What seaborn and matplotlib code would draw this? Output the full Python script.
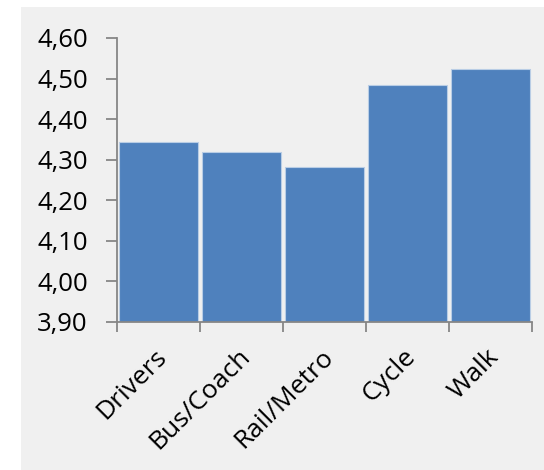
import matplotlib
matplotlib.use("Agg")
import matplotlib.pyplot as plt
import matplotlib.patches as mpatches
import matplotlib.transforms as mtransforms
from matplotlib.ticker import FixedLocator, FuncFormatter
import seaborn as sns
import pandas as pd

modes = ["Drivers", "Bus/Coach", "Rail/Metro", "Cycle", "Walk"]
scores = [4.344, 4.32, 4.281, 4.484, 4.523]
y_ticks = [3.90, 4.00, 4.10, 4.20, 4.30, 4.40, 4.50, 4.60]

df = pd.DataFrame({"mode": modes, "score": scores})

sns.set_theme(style="white")
plt.rcParams["font.family"] = ["Open Sans", "DejaVu Sans"]

bg = "#f0f0f0"
axis_col = "#868686"
bar_col = "#4f81bd"

fig = plt.figure(figsize=(5.44, 4.70), dpi=100, facecolor="white")
fig.patches.append(mpatches.Rectangle((21 / 544, 0), 1 - 21 / 544, 1 - 7 / 470,
                                      transform=fig.transFigure, facecolor=bg,
                                      edgecolor="none", zorder=-10))
ax = fig.add_axes([117 / 544, 1 - 322 / 470, (532 - 117) / 544, (322 - 38) / 470])
ax.set_facecolor(bg)

sns.barplot(data=df, x="mode", y="score", color=bar_col, saturation=1,
            width=0.95, edgecolor="#b9cde5", linewidth=0.8, ax=ax)

ax.set_ylim(3.90, 4.60)
ax.set_xlim(-0.5, len(modes) - 0.5)
ax.set_yticks(y_ticks)
ax.yaxis.set_major_formatter(FuncFormatter(lambda v, p: f"{v:.2f}".replace(".", ",")))

# tick marks at category boundaries, labels centred under each bar
ax.xaxis.set_major_locator(FixedLocator([i - 0.5 for i in range(len(modes) + 1)]))
ax.xaxis.set_major_formatter(FuncFormatter(lambda v, p: ""))
ax.xaxis.set_minor_locator(FixedLocator(list(range(len(modes)))))
ax.set_xticklabels(modes, minor=True)
ax.tick_params(axis="x", which="major", length=7, width=1.3, color=axis_col, direction="out", bottom=True)
ax.tick_params(axis="x", which="minor", length=0, pad=16, labelsize=19, labelcolor="black")
ax.tick_params(axis="y", length=8, width=1.3, color=axis_col, direction="out", left=True,
               labelsize=18.5, labelcolor="black", pad=13)
shift = mtransforms.ScaledTranslation(-4 / 100, 0, fig.dpi_scale_trans)
for lab in ax.get_xticklabels(minor=True):
    lab.set_rotation(45)
    lab.set_ha("right")
    lab.set_rotation_mode("anchor")
    lab.set_transform(lab.get_transform() + shift)

for side in ["top", "right"]:
    ax.spines[side].set_visible(False)
for side in ["left", "bottom"]:
    ax.spines[side].set_color(axis_col)
    ax.spines[side].set_linewidth(1.3)

ax.set_xlabel("")
ax.set_ylabel("")

fig.savefig("out.png", dpi=100, facecolor="white")
